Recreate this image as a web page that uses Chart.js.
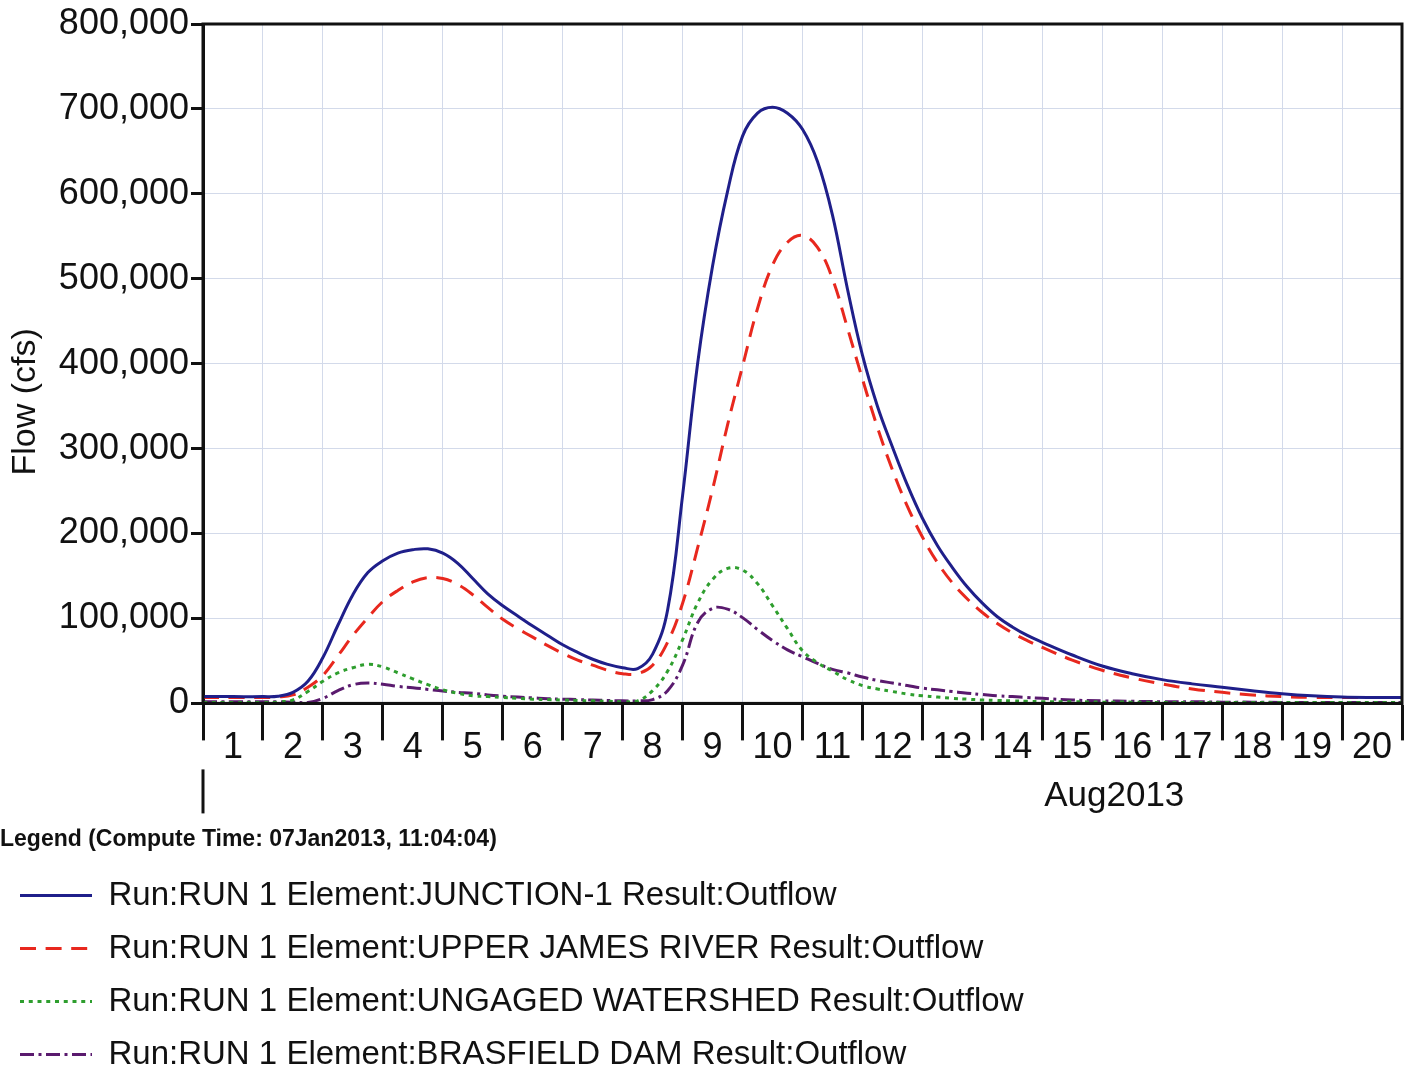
<!DOCTYPE html>
<html>
<head>
<meta charset="utf-8">
<title>Outflow hydrographs</title>
<script src="https://cdn.jsdelivr.net/npm/chart.js@4/dist/chart.umd.min.js"></script>
<style>
  html, body { margin: 0; padding: 0; background: #fff; }
  canvas { display: block; }
</style>
</head>
<body>
<canvas id="flowChart" width="1411" height="1071"></canvas>
<script>
// time in days from 01Aug2013 00:00
const days = [0, 0.5, 1, 1.25, 1.5, 1.75, 2, 2.25, 2.5, 2.75, 3, 3.25, 3.5, 3.75, 4, 4.25, 4.5, 4.75, 5, 5.25, 5.5, 5.75, 6, 6.25, 6.5, 6.75, 7, 7.25, 7.5, 7.75, 8, 8.25, 8.5, 8.75, 9, 9.25, 9.5, 9.75, 10, 10.25, 10.5, 10.75, 11, 11.25, 11.5, 11.75, 12, 12.25, 12.5, 12.75, 13, 13.25, 13.5, 13.75, 14, 14.5, 15, 15.5, 16, 16.5, 17, 17.5, 18, 18.5, 19, 19.5, 20];

// flow (cfs)
const junction = [8000, 8000, 8000, 8500, 13000, 26000, 54000, 92000, 128000, 154000, 168000, 177000, 181000, 182000, 177000, 165000, 147000, 129000, 115000, 103000, 91000, 80000, 69000, 60000, 52000, 46000, 42000, 41000, 58000, 110000, 245000, 400000, 515000, 603000, 668000, 695000, 702000, 695000, 676000, 638000, 575000, 488000, 410000, 350000, 302000, 257000, 218000, 186000, 160000, 137000, 118000, 102000, 90000, 80000, 72000, 57000, 44000, 35000, 28000, 23000, 19000, 15000, 11500, 9000, 7500, 7000, 7000];
const upperJames = [7000, 7000, 7000, 7500, 10000, 19000, 33000, 56000, 80000, 101000, 120000, 133000, 143000, 148000, 147000, 140000, 128000, 113000, 99000, 88000, 78000, 68000, 59000, 51000, 45000, 39000, 35000, 35000, 45000, 72000, 118000, 183000, 252000, 328000, 397000, 465000, 516000, 543000, 551000, 537000, 500000, 442000, 382000, 325000, 275000, 232000, 196000, 166000, 142000, 123000, 107000, 94000, 83000, 74000, 66000, 51000, 39000, 30000, 23000, 17000, 13000, 10000, 8000, 7000, 7000, 7000, 7000];
const ungaged = [1000, 1000, 1000, 1500, 4000, 14000, 26000, 36000, 42000, 46000, 43000, 36000, 29000, 22000, 16000, 12000, 9000, 8000, 7000, 6000, 5000, 4500, 4000, 3500, 3000, 2500, 2000, 3000, 15000, 38000, 75000, 118000, 146000, 159000, 157000, 141000, 115000, 88000, 62000, 48000, 38000, 28000, 21000, 17000, 14000, 11000, 9000, 7500, 6000, 5000, 4000, 3500, 3000, 2500, 2000, 2000, 1500, 1500, 1000, 1000, 1000, 1000, 1000, 1000, 1000, 1000, 1000];
const brasfield = [2000, 2000, 2000, 2000, 1500, 1000, 6000, 15000, 22000, 24000, 22500, 20000, 18500, 16500, 14500, 13000, 12000, 10000, 8500, 7500, 6500, 5500, 5000, 4500, 4000, 3500, 3000, 3000, 4500, 15000, 45000, 95000, 112000, 111000, 101000, 87000, 74000, 63000, 55000, 47000, 40000, 36000, 31000, 27000, 24000, 21000, 18000, 16000, 14000, 12000, 10500, 9000, 8000, 7000, 6000, 4000, 3000, 2500, 2000, 2000, 1500, 1500, 1000, 1000, 1000, 1000, 1000];

const dayLabels = ['1', '2', '3', '4', '5', '6', '7', '8', '9', '10', '11', '12', '13', '14', '15', '16', '17', '18', '19', '20'];
const monthLabel = 'Aug2013';
const yTitle = 'Flow (cfs)';
const legendTitle = 'Legend (Compute Time: 07Jan2013, 11:04:04)';

const gridColor = '#d3daea';
const ink = '#111111';
const fontFamily = '"Liberation Sans", Arial, sans-serif';

Chart.defaults.font.family = fontFamily;
Chart.defaults.color = ink;

function series(label, values, color, dash) {
  return {
    label: label,
    data: days.map((d, i) => ({ x: d, y: values[i] })),
    borderColor: color,
    backgroundColor: color,
    borderWidth: 3,
    borderDash: dash,
    pointRadius: 0,
    fill: false,
    tension: 0.4,
  };
}

// plot frame, y title, month marker
const framePlugin = {
  id: 'frame',
  afterDraw(chart) {
    const { ctx, chartArea, scales } = chart;
    ctx.save();
    ctx.strokeStyle = ink;
    ctx.lineWidth = 3;
    ctx.strokeRect(chartArea.left, chartArea.top, chartArea.right - chartArea.left, chartArea.bottom - chartArea.top);

    // month tick below the day labels
    const x0 = scales.x.getPixelForValue(0);
    ctx.beginPath();
    ctx.moveTo(x0, chartArea.bottom + 66);
    ctx.lineTo(x0, chartArea.bottom + 110);
    ctx.stroke();

    ctx.fillStyle = ink;
    ctx.textAlign = 'center';
    ctx.textBaseline = 'middle';
    ctx.font = '35px ' + fontFamily;
    ctx.fillText(monthLabel, scales.x.getPixelForValue(15.2), chartArea.bottom + 93);

    ctx.translate(26, scales.y.getPixelForValue(355000));
    ctx.rotate(-Math.PI / 2);
    ctx.font = '34px ' + fontFamily;
    ctx.fillText(yTitle, 0, 0);
    ctx.restore();
  }
};

new Chart(document.getElementById('flowChart'), {
  type: 'line',
  data: {
    datasets: [
      series('Run:RUN 1 Element:JUNCTION-1 Result:Outflow', junction, '#1f1f8a', []),
      series('Run:RUN 1 Element:UPPER JAMES RIVER Result:Outflow', upperJames, '#e8281e', [16, 9.6]),
      series('Run:RUN 1 Element:UNGAGED WATERSHED Result:Outflow', ungaged, '#2e9e2e', [4, 4.75]),
      series('Run:RUN 1 Element:BRASFIELD DAM Result:Outflow', brasfield, '#5a1a6e', [14, 4.5, 3, 4.5]),
    ],
  },
  options: {
    responsive: false,
    animation: false,
    layout: { padding: { top: 24, right: 9, bottom: -10, left: 0 } },
    plugins: {
      tooltip: { enabled: false },
      legend: {
        position: 'bottom',
        align: 'start',
        title: {
          display: true,
          text: legendTitle,
          position: 'start',
          font: { size: 23, weight: 'bold' },
          padding: { top: 0, bottom: 3 },
        },
        labels: {
          boxWidth: 72,
          boxHeight: 0,
          font: { size: 33 },
          padding: 20,
          color: ink,
        },
      },
    },
    scales: {
      x: {
        type: 'linear',
        min: 0,
        max: 20,
        afterBuildTicks: (scale) => {
          const t = [];
          for (let i = 0; i <= 20; i++) {
            t.push({ value: i });
            if (i < 20) t.push({ value: i + 0.5 });
          }
          scale.ticks = t;
        },
        ticks: {
          autoSkip: false,
          maxRotation: 0,
          font: { size: 36 },
          color: ink,
          padding: -14,
          callback: (v) => (Number.isInteger(v) ? '' : dayLabels[Math.floor(v)]),
        },
        grid: {
          color: (c) => (c.tick && Number.isInteger(c.tick.value) ? gridColor : 'rgba(0,0,0,0)'),
          tickColor: (c) => (c.tick && Number.isInteger(c.tick.value) ? ink : 'rgba(0,0,0,0)'),
          tickLength: 37,
          tickWidth: 3,
          lineWidth: 1,
        },
        border: { color: ink, width: 3 },
        afterFit: (scale) => { scale.height = 125; },
      },
      y: {
        min: 0,
        max: 800000,
        ticks: {
          stepSize: 100000,
          font: { size: 36 },
          color: ink,
          padding: 2,
          callback: (v) => v.toLocaleString('en-US'),
        },
        grid: {
          color: gridColor,
          tickColor: ink,
          tickLength: 12,
          tickWidth: 3,
          lineWidth: 1,
        },
        border: { color: ink, width: 3 },
        afterFit: (scale) => { scale.width = 203; },
      },
    },
  },
  plugins: [framePlugin],
});
</script>
</body>
</html>
